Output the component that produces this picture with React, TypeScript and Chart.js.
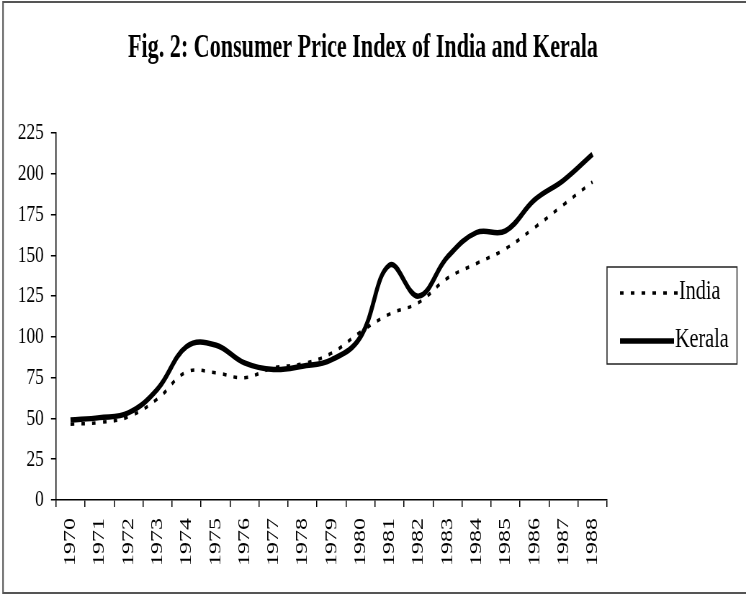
import React, { useEffect, useRef } from "react";
import { Chart, registerables } from "chart.js";

Chart.register(...registerables);

const years = ["1970","1971","1972","1973","1974","1975","1976","1977","1978","1979","1980","1981","1982","1983","1984","1985","1986","1987","1988"];
const india = [46.5, 47.5, 51, 62, 78.5, 78, 75, 81, 83.5, 90, 103, 114, 121, 136, 145, 154, 167, 181, 195];
const kerala = [49, 50.5, 53.5, 68, 94, 95, 84, 80, 82, 86, 100, 144, 125, 149, 164, 165, 184, 196, 212];
const yTicks = [0, 25, 50, 75, 100, 125, 150, 175, 200, 225];
const titleText = "Fig. 2: Consumer Price Index of India and Kerala";

const W = 1036;
const H = 595;
const K = 746 / W;
const SERIF = '"Liberation Serif", "Times New Roman", serif';

const decorPlugin = {
  id: "decor",
  afterDraw(chart: any) {
    const ctx = chart.ctx;
    ctx.save();
    // frame
    ctx.strokeStyle = "#555";
    ctx.lineWidth = 2;
    ctx.beginPath();
    ctx.moveTo(W, 2);
    ctx.lineTo(3 / K, 2);
    ctx.lineTo(3 / K, 593);
    ctx.lineTo(W, 593);
    ctx.stroke();
    // title
    ctx.fillStyle = "#000";
    ctx.font = `bold 34px ${SERIF}`;
    ctx.textAlign = "center";
    ctx.textBaseline = "alphabetic";
    ctx.fillText(titleText, 363 / K, 57, 470 / K);
    // legend box
    const bx = 607 / K, by = 267, bw = (737 - 607) / K, bh = 97;
    ctx.strokeStyle = "#222";
    ctx.lineWidth = 1.5;
    ctx.strokeRect(bx, by, bw, bh);
    ctx.font = `28px ${SERIF}`;
    ctx.textAlign = "left";
    ctx.textBaseline = "middle";
    // India
    ctx.strokeStyle = "#000";
    ctx.lineWidth = 3.5;
    ctx.setLineDash([5, 10]);
    ctx.beginPath();
    ctx.moveTo(620 / K, 293);
    ctx.lineTo(678 / K, 293);
    ctx.stroke();
    ctx.setLineDash([]);
    ctx.fillText("India", 679 / K, 292);
    // Kerala
    ctx.lineWidth = 5.5;
    ctx.beginPath();
    ctx.moveTo(620 / K, 341);
    ctx.lineTo(674 / K, 341);
    ctx.stroke();
    ctx.fillText("Kerala", 675 / K, 340);
    ctx.restore();
  },
};

export default function App() {
  const ref = useRef<HTMLCanvasElement | null>(null);
  useEffect(() => {
    document.body.style.margin = "0";
    const canvas = ref.current!;
    const chart = new Chart(canvas, {
      type: "line",
      data: {
        labels: years,
        datasets: [
          {
            label: "India",
            data: india,
            borderColor: "#000",
            borderWidth: 3.5,
            borderDash: [5, 10],
            pointRadius: 0,
            tension: 0.4,
            fill: false,
          },
          {
            label: "Kerala",
            data: kerala,
            borderColor: "#000",
            borderWidth: 5.5,
            pointRadius: 0,
            tension: 0.4,
            fill: false,
          },
        ],
      },
      options: {
        responsive: false,
        animation: false,
        devicePixelRatio: 1,
        layout: { padding: { top: 133, left: 0, right: W - 607 / K, bottom: 0 } },
        plugins: {
          legend: { display: false },
          title: { display: false },
          tooltip: { enabled: false },
        },
        scales: {
          x: {
            type: "category",
            offset: true,
            grid: {
              offset: true,
              drawOnChartArea: false,
              drawTicks: true,
              tickLength: 7,
              color: "#000",
              lineWidth: 1.5,
            },
            border: { display: true, color: "#000", width: 1.5 },
            ticks: {
              autoSkip: false,
              maxRotation: 90,
              minRotation: 90,
              padding: 11,
              color: "#000",
              font: { family: SERIF, size: 24 },
            },
            afterFit(s: any) {
              s.height = H - 500;
            },
          },
          y: {
            min: 0,
            max: 225,
            afterBuildTicks(s: any) {
              s.ticks = yTicks.map((v) => ({ value: v }));
            },
            grid: {
              drawOnChartArea: false,
              drawTicks: true,
              tickLength: 7,
              color: "#000",
              lineWidth: 1.5,
            },
            border: { display: true, color: "#000", width: 1.5 },
            ticks: {
              padding: 10,
              color: "#000",
              font: { family: SERIF, size: 24 },
            },
            afterFit(s: any) {
              s.width = 56 / K;
            },
          },
        },
      },
      plugins: [decorPlugin],
    });
    return () => chart.destroy();
  }, []);
  return (
    <div style={{ width: "746px", height: "595px", background: "#fff" }}>
      <canvas
        ref={ref}
        width={W}
        height={H}
        style={{ width: "746px", height: "595px", display: "block" }}
      />
    </div>
  );
}
